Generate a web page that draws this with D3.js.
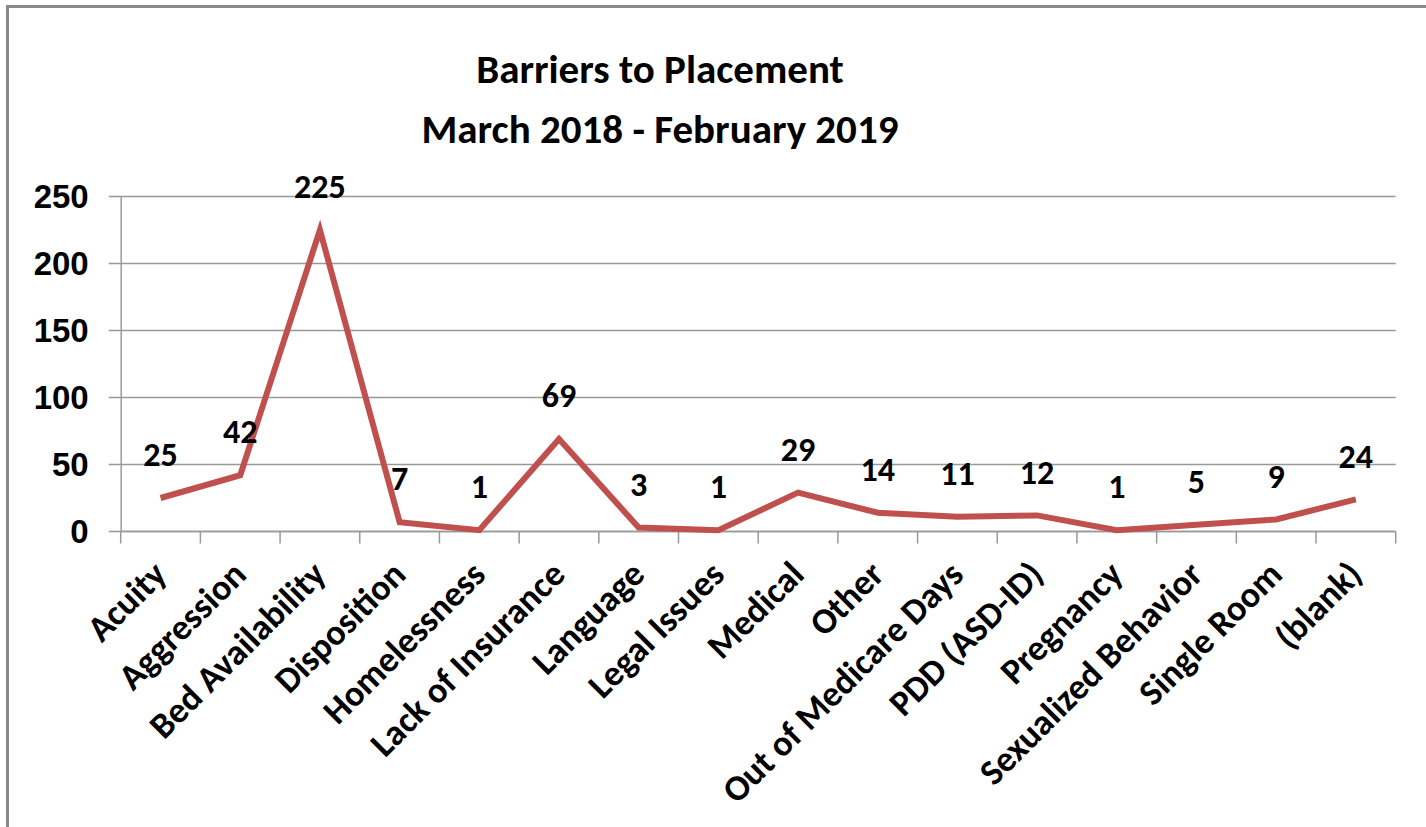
<!DOCTYPE html>
<html>
<head>
<meta charset="utf-8">
<script src="https://cdn.jsdelivr.net/npm/d3@7"></script>
<style>
  body { margin: 0; background: #fff; }
  svg { display: block; font-family: Carlito, Lato, "Open Sans", sans-serif; font-weight: bold; }
  .tick text { font-size: 33px; fill: #000; }
</style>
</head>
<body>
<div class="chart"></div>
<script>
// chart values
var categories = ["Acuity", "Aggression", "Bed Availability", "Disposition", "Homelessness",
    "Lack of Insurance", "Language", "Legal Issues", "Medical", "Other", "Out of Medicare Days",
    "PDD (ASD-ID)", "Pregnancy", "Sexualized Behavior", "Single Room", "(blank)"];
var counts = [25, 42, 225, 7, 1, 69, 3, 1, 29, 14, 11, 12, 1, 5, 9, 24];
var yTicks = [0, 50, 100, 150, 200, 250];
var titleLines = ["Barriers to Placement", "March 2018 - February 2019"];

var svgWidth = 1426;
var svgHeight = 827;

var margin = { top: 196.5, right: 30, bottom: 295.5, left: 120.7 };
var width = 1395.7 - margin.left;
var height = 531.5 - margin.top;

var svg = d3.select(".chart")
    .append("svg")
    .attr("width", svgWidth)
    .attr("height", svgHeight);

// outer frame (only top and left show in the picture)
svg.append("path")
    .attr("d", "M7.5,827V6.5H1426")
    .attr("fill", "none")
    .attr("stroke", "#888")
    .attr("stroke-width", 3);

var chartGroup = svg.append("g")
    .attr("transform", `translate(${margin.left}, ${margin.top})`);

var x = d3.scaleBand()
    .domain(categories)
    .range([0, width]);

var y = d3.scaleLinear()
    .domain([0, 250])
    .range([height, 0]);

// gridlines
chartGroup.append("g")
    .selectAll("line")
    .data(yTicks)
    .enter()
    .append("line")
    .attr("x1", -12)
    .attr("x2", width)
    .attr("y1", d => y(d))
    .attr("y2", d => y(d))
    .attr("stroke", "#999")
    .attr("stroke-width", 1.5);

// y axis
var leftAxis = d3.axisLeft(y).tickValues(yTicks).tickSize(0).tickPadding(32);
var yAxis = chartGroup.append("g").call(leftAxis);
yAxis.select(".domain").attr("stroke", "#999").attr("stroke-width", 1.5);

// x axis with ticks between categories
var xAxis = chartGroup.append("g")
    .attr("transform", `translate(0, ${height})`);
xAxis.append("line")
    .attr("x1", 0).attr("x2", width)
    .attr("stroke", "#999").attr("stroke-width", 1.5);
xAxis.selectAll(".sep")
    .data(categories.concat(["_end"]))
    .enter()
    .append("line")
    .attr("class", "sep")
    .attr("x1", (d, i) => i * x.bandwidth())
    .attr("x2", (d, i) => i * x.bandwidth())
    .attr("y1", 0).attr("y2", 12)
    .attr("stroke", "#999").attr("stroke-width", 1.5);

xAxis.selectAll(".cat")
    .data(categories)
    .enter()
    .append("text")
    .attr("class", "cat")
    .attr("transform", d => `translate(${x(d) + x.bandwidth() / 2 + 8}, 45) rotate(-45)`)
    .attr("text-anchor", "end")
    .attr("font-size", 36)
    .text(d => d);

// the line
var line = d3.line()
    .x((d, i) => x(categories[i]) + x.bandwidth() / 2)
    .y(d => y(d));

chartGroup.append("path")
    .datum(counts)
    .attr("d", line)
    .attr("fill", "none")
    .attr("stroke", "#C0504D")
    .attr("stroke-width", 6)
    .attr("stroke-linejoin", "miter");

// data labels
chartGroup.selectAll(".lbl")
    .data(counts)
    .enter()
    .append("text")
    .attr("class", "lbl")
    .attr("x", (d, i) => x(categories[i]) + x.bandwidth() / 2)
    .attr("y", d => y(d) - 44)
    .attr("dy", "0.36em")
    .attr("text-anchor", "middle")
    .attr("font-size", 34)
    .text(d => d);

// title
svg.append("g")
    .selectAll("text")
    .data(titleLines)
    .enter()
    .append("text")
    .attr("x", 660)
    .attr("y", (d, i) => 83 + i * 60)
    .attr("text-anchor", "middle")
    .attr("font-size", 41)
    .text(d => d);
</script>
</body>
</html>
